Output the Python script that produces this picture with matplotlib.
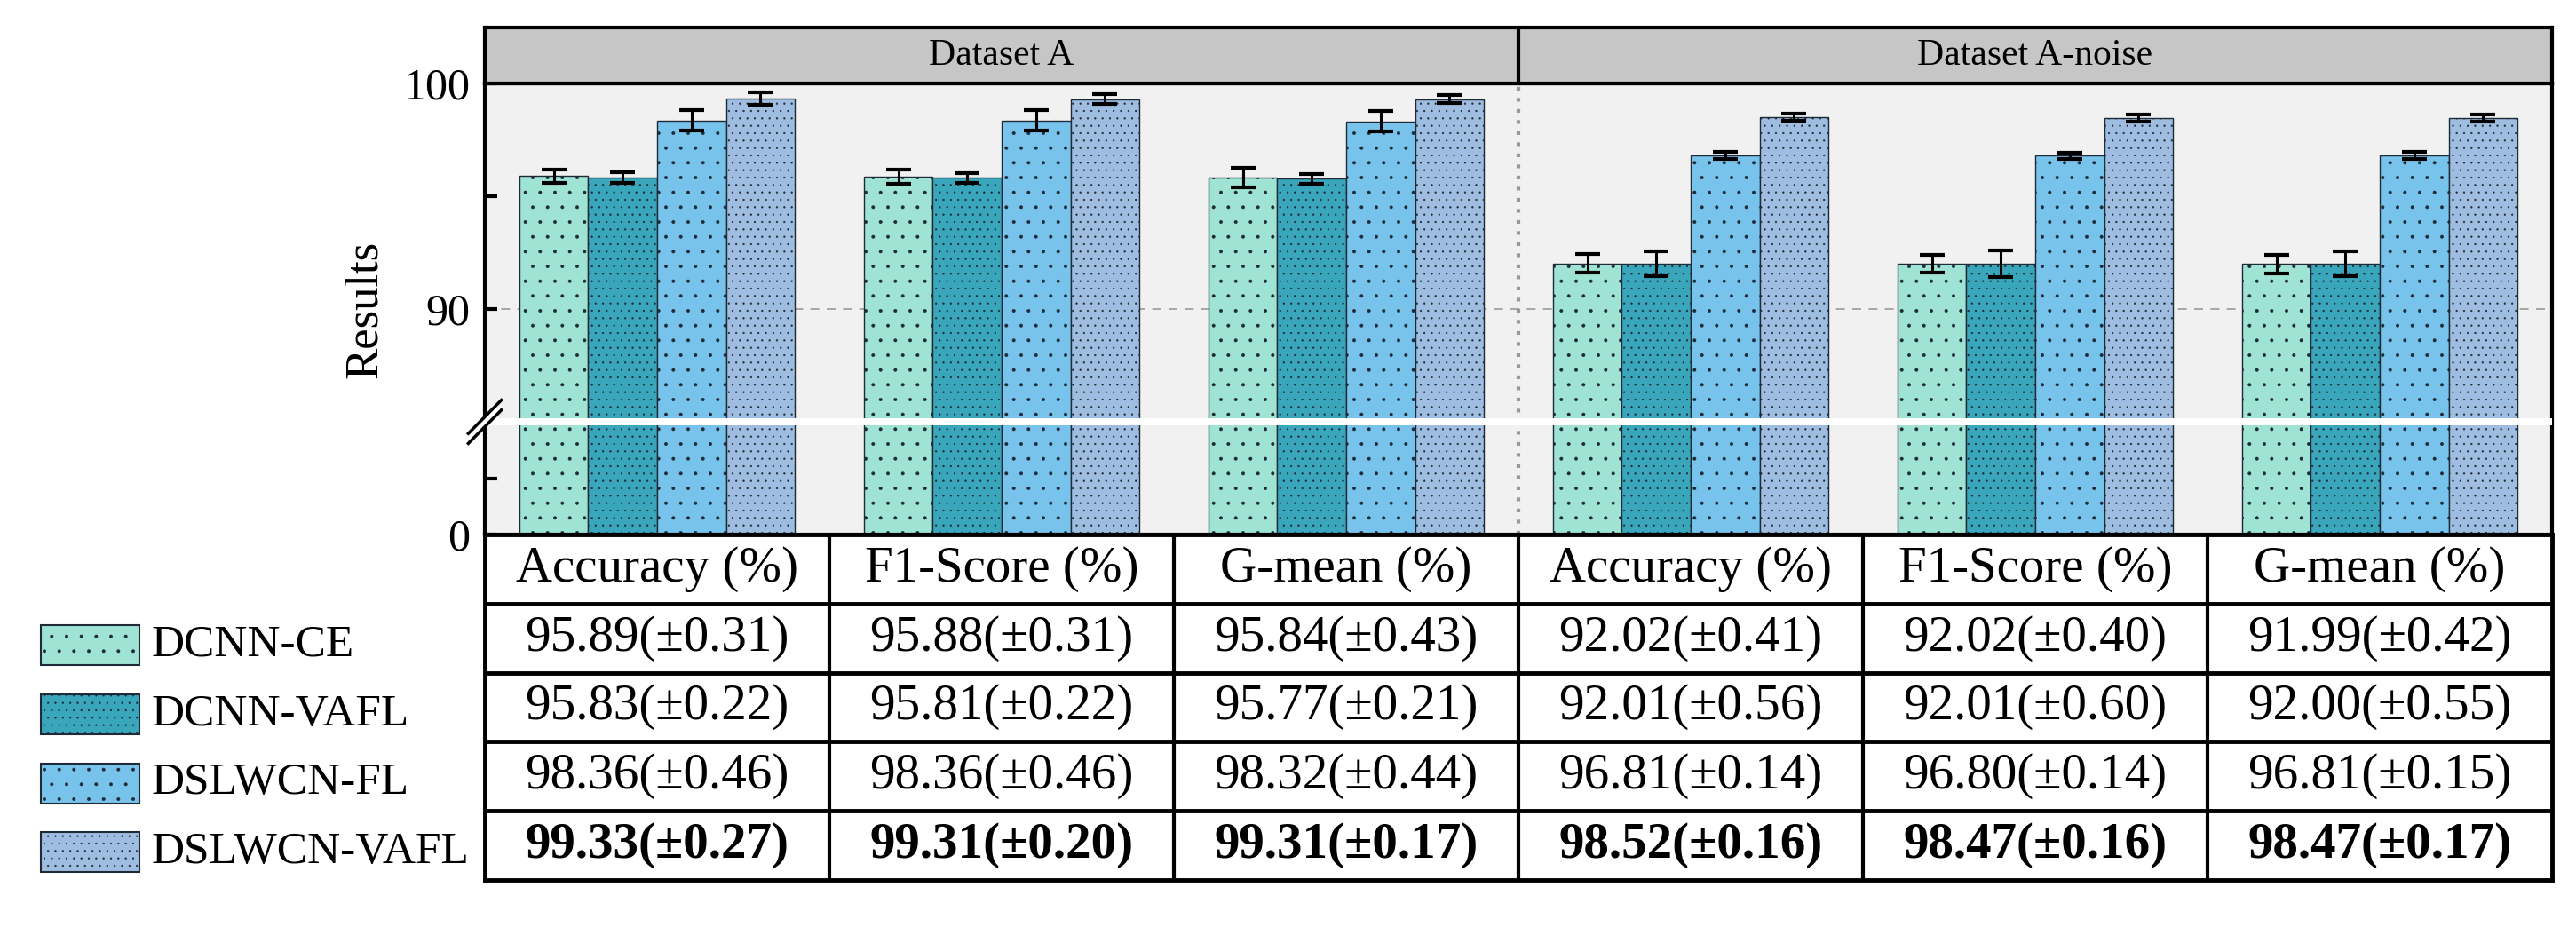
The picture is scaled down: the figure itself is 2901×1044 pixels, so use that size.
import numpy as np
import matplotlib
matplotlib.use('Agg')
import matplotlib.pyplot as plt
from matplotlib.patches import Rectangle

plt.rcParams['font.family'] = ['Liberation Serif', 'DejaVu Serif']
plt.rcParams['hatch.linewidth'] = 0.4

datasets = ['Dataset A', 'Dataset A-noise']
metrics = ['Accuracy (%)', 'F1-Score (%)', 'G-mean (%)']
models = ['DCNN-CE', 'DCNN-VAFL', 'DSLWCN-FL', 'DSLWCN-VAFL']

# columns: A acc, A f1, A gmean, A-noise acc, A-noise f1, A-noise gmean
dcnn_ce = [95.89, 95.88, 95.84, 92.02, 92.02, 91.99]
dcnn_vafl = [95.83, 95.81, 95.77, 92.01, 92.01, 92.00]
dslwcn_fl = [98.36, 98.36, 98.32, 96.81, 96.80, 96.81]
dslwcn_vafl = [99.33, 99.31, 99.31, 98.52, 98.47, 98.47]

dcnn_ce_std = [0.31, 0.31, 0.43, 0.41, 0.40, 0.42]
dcnn_vafl_std = [0.22, 0.22, 0.21, 0.56, 0.60, 0.55]
dslwcn_fl_std = [0.46, 0.46, 0.44, 0.14, 0.14, 0.15]
dslwcn_vafl_std = [0.27, 0.20, 0.17, 0.16, 0.16, 0.17]

means = [dcnn_ce, dcnn_vafl, dslwcn_fl, dslwcn_vafl]
stds = [dcnn_ce_std, dcnn_vafl_std, dslwcn_fl_std, dslwcn_vafl_std]

colors = ['#9ee3d3', '#3aa6bc', '#78c3ec', '#9fbde0']
hatches = ['.', '..', '.', '..']

col_labels = [m for d in datasets for m in metrics]
x = np.arange(len(col_labels))
width = 0.2

# broken y axis: 0..85 squeezed into the bottom, 85..100 linear
BRK = 85.0
def fwd(v):
    v = np.asarray(v, float)
    return np.where(v <= BRK, v * 5 / BRK, v - 80)

def inv(t):
    t = np.asarray(t, float)
    return np.where(t <= 5, t * BRK / 5, t + 80)

W, H = 2901, 1044
fig = plt.figure(figsize=(W / 100, H / 100), dpi=100)

def box(l, t, r, b):
    return [l / W, 1 - b / H, (r - l) / W, (b - t) / H]

ax = fig.add_axes(box(546, 94, 2874, 602))
ax_strip = fig.add_axes(box(546, 31, 2874, 94))
ax_tab = fig.add_axes(box(546, 602, 2874, 991))
ax_leg = fig.add_axes(box(0, 602, 546, 991))

# bars
ax.set_facecolor('#f1f1f1')
for i, name in enumerate(models):
    pos = x + (i - 1.5) * width
    ax.bar(pos, means[i], width, color=colors[i], edgecolor='#1e2a36', linewidth=1.0,
           hatch=hatches[i], zorder=2, label=name)
    ax.errorbar(pos, means[i], yerr=stds[i], fmt='none', ecolor='black',
                elinewidth=2.2, capsize=10, capthick=3, zorder=4)

ax.set_yscale('function', functions=(fwd, inv))
ax.set_ylim(0, 100)
ax.set_xlim(-0.5, 5.5)
ax.set_yticks([0, 90, 100])
ax.set_yticks([42.5, 95], minor=True)
ax.set_xticks([])
ax.tick_params(axis='y', which='both', direction='in', length=10, width=3,
               labelsize=36, pad=12, right=False)
ax.set_ylabel('Results', fontsize=38, labelpad=14)
for s in ax.spines.values():
    s.set_linewidth(3)

ax.axhline(90, color='#9a9a9a', lw=1.2, ls=(0, (6, 5)), zorder=1)
ax.axvline(2.5, color='#999999', lw=3, ls=(0, (1, 2)), zorder=1)

# white gap across the bars at the break
ax.axhspan(float(inv(4.84)), float(inv(5.16)), color='white', lw=0, zorder=3)

# break marks on the left spine
bt = 0.25
ax.plot([-0.006, 0.006], [bt - 0.03, bt + 0.03], transform=ax.transAxes,
        color='white', lw=7, clip_on=False, zorder=6)
for dy in (-0.011, 0.011):
    ax.plot([-0.008, 0.008], [bt + dy - 0.037, bt + dy + 0.037], transform=ax.transAxes,
            color='black', lw=2.5, clip_on=False, zorder=7)

# header strip
ax_strip.set_facecolor('#c6c6c6')
ax_strip.set_xlim(-0.5, 5.5)
ax_strip.set_ylim(0, 1)
ax_strip.set_xticks([])
ax_strip.set_yticks([])
for s in ax_strip.spines.values():
    s.set_linewidth(3)
ax_strip.axvline(2.5, color='black', lw=3)
ax_strip.text(1, 0.5, datasets[0], ha='center', va='center', fontsize=30)
ax_strip.text(4, 0.5, datasets[1], ha='center', va='center', fontsize=30)

# table under the bars
ax_tab.set_xlim(-0.5, 5.5)
ax_tab.set_ylim(5, 0)
ax_tab.set_xticks([])
ax_tab.set_yticks([])
for s in ax_tab.spines.values():
    s.set_linewidth(3.5)
for r in range(1, 5):
    ax_tab.axhline(r, color='black', lw=3.5)
for c in np.arange(0.5, 5.5, 1):
    ax_tab.axvline(c, color='black', lw=3)
for j, lab in enumerate(col_labels):
    ax_tab.text(j, 0.5, lab, ha='center', va='center', fontsize=41)
for i in range(len(models)):
    for j in range(len(col_labels)):
        txt = f'{means[i][j]:.2f}(\u00b1{stds[i][j]:.2f})'
        ax_tab.text(j, i + 1.5, txt, ha='center', va='center', fontsize=41,
                    fontweight='bold' if i == len(models) - 1 else 'normal')

# legend beside the table rows
ax_leg.set_xlim(0, 546)
ax_leg.set_ylim(5, 0)
ax_leg.axis('off')
for i, name in enumerate(models):
    yc = i + 1.6
    ax_leg.add_patch(Rectangle((46, yc - 0.29), 111, 0.58, facecolor=colors[i],
                               edgecolor='#1e2a36', linewidth=1.5, hatch=hatches[i]))
    ax_leg.text(171, yc, name, ha='left', va='center', fontsize=37)

fig.savefig('out.png', dpi=100)
